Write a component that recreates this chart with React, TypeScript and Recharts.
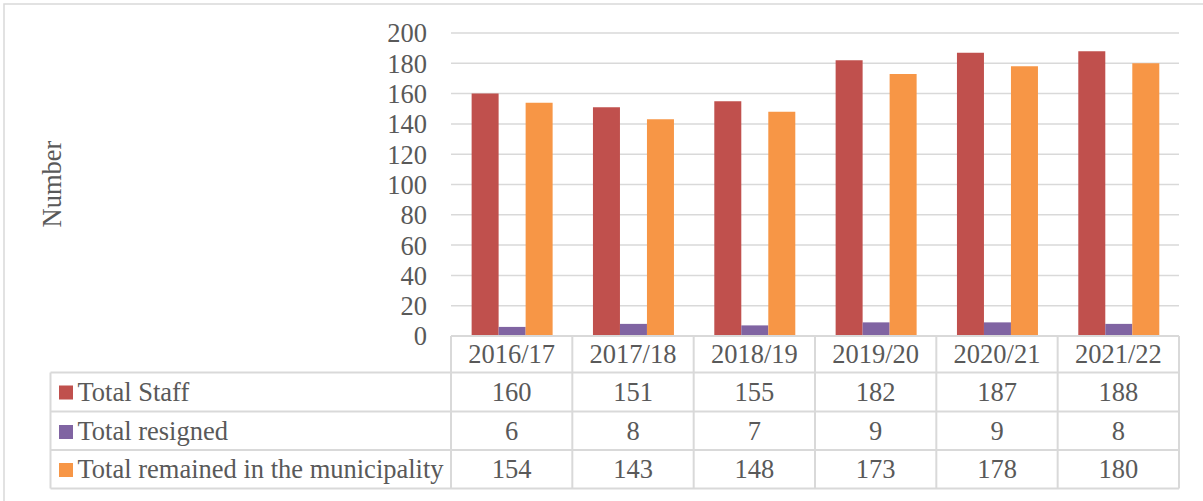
import React from 'react';
import { BarChart, Bar, XAxis, YAxis, CartesianGrid } from 'recharts';

const categories = ['2016/17', '2017/18', '2018/19', '2019/20', '2020/21', '2021/22'];
const totalStaff = [160, 151, 155, 182, 187, 188];
const totalResigned = [6, 8, 7, 9, 9, 8];
const totalRemained = [154, 143, 148, 173, 178, 180];
const seriesNames = ['Total Staff', 'Total resigned', 'Total remained in the municipality'];
const seriesKeys = ['staff', 'resigned', 'remained'];
const seriesColors = ['#C0504D', '#8064A2', '#F79646'];
const yTicks = [0, 20, 40, 60, 80, 100, 120, 140, 160, 180, 200];
const yAxisTitle = 'Number';

const seriesValues = [totalStaff, totalResigned, totalRemained];
const data = categories.map((c, i) => ({
  category: c,
  staff: totalStaff[i],
  resigned: totalResigned[i],
  remained: totalRemained[i],
}));

const W = 1203;
const H = 501;
const PLOT_LEFT = 451;
const PLOT_RIGHT = 1179;
const PLOT_TOP = 33;
const PLOT_BOTTOM = 336;
const TABLE_LEFT = 50.5;
const ROW_LINES = [PLOT_BOTTOM, 372.5, 411.5, 450, 488.5];
const HEADER_BASE = 363;
const ROW_BASES = [400.5, 440, 478];
const FONT = "'Liberation Serif', 'Times New Roman', serif";
const FS = 26.5;
const TEXT = '#595959';
const LINE = '#D9D9D9';
const COL_W = (PLOT_RIGHT - PLOT_LEFT) / categories.length;

const ColumnTick = (props: any) => {
  const { x, payload } = props;
  const idx = payload.index;
  return (
    <g>
      <text x={x} y={HEADER_BASE} textAnchor="middle" fill={TEXT} fontSize={FS} fontFamily={FONT}>
        {payload.value}
      </text>
      {seriesValues.map((vals, r) => (
        <text key={r} x={x} y={ROW_BASES[r]} textAnchor="middle" fill={TEXT} fontSize={FS} fontFamily={FONT}>
          {vals[idx]}
        </text>
      ))}
      <line x1={x + COL_W / 2} x2={x + COL_W / 2} y1={PLOT_BOTTOM} y2={ROW_LINES[4]} stroke={LINE} strokeWidth={2} />
    </g>
  );
};

export default function App() {
  return (
    <div style={{ position: 'absolute', left: 0, top: 0, width: W, height: H, background: '#fff', overflow: 'hidden' }}>
      <BarChart
        width={W}
        height={H}
        data={data}
        margin={{ top: PLOT_TOP, right: W - PLOT_RIGHT, bottom: H - ROW_LINES[4] - 0.5, left: PLOT_LEFT - 60 }}
        barCategoryGap="17%"
        barGap={0}
      >
        <CartesianGrid vertical={false} stroke={LINE} strokeWidth={1.5} />
        <XAxis
          dataKey="category"
          interval={0}
          height={ROW_LINES[4] - PLOT_BOTTOM + 0.5}
          axisLine={{ stroke: LINE, strokeWidth: 2 }}
          tickLine={false}
          tick={<ColumnTick />}
        />
        <YAxis
          width={60}
          domain={[0, 200]}
          ticks={yTicks}
          interval={0}
          axisLine={false}
          tickLine={false}
          tickSize={0}
          tickMargin={24}
          tick={{ fill: TEXT, fontSize: FS, fontFamily: FONT }}
        />
        {seriesKeys.map((k, i) => (
          <Bar key={k} dataKey={k} name={seriesNames[i]} fill={seriesColors[i]} isAnimationActive={false} />
        ))}
      </BarChart>
      <svg
        width={W}
        height={H}
        style={{ position: 'absolute', left: 0, top: 0, pointerEvents: 'none' }}
      >
        <rect x={4} y={4} width={W + 10} height={H + 10} fill="none" stroke={LINE} strokeWidth={1.5} />
        <text
          transform={`translate(61, 184) rotate(-90)`}
          textAnchor="middle"
          fill={TEXT}
          fontSize={FS}
          fontFamily={FONT}
        >
          {yAxisTitle}
        </text>
        <line x1={PLOT_LEFT} x2={PLOT_LEFT} y1={PLOT_BOTTOM} y2={ROW_LINES[4]} stroke={LINE} strokeWidth={2} />
        <line x1={TABLE_LEFT} x2={TABLE_LEFT} y1={ROW_LINES[1]} y2={ROW_LINES[4]} stroke={LINE} strokeWidth={2} />
        {ROW_LINES.slice(1).map((y, i) => (
          <line key={i} x1={TABLE_LEFT} x2={PLOT_RIGHT} y1={y} y2={y} stroke={LINE} strokeWidth={2} />
        ))}
        {seriesNames.map((n, r) => (
          <g key={n}>
            <rect x={59} y={ROW_BASES[r] - 15} width={14} height={14} fill={seriesColors[r]} />
            <text x={77.5} y={ROW_BASES[r]} fill={TEXT} fontSize={FS} fontFamily={FONT}>
              {n}
            </text>
          </g>
        ))}
      </svg>
    </div>
  );
}
